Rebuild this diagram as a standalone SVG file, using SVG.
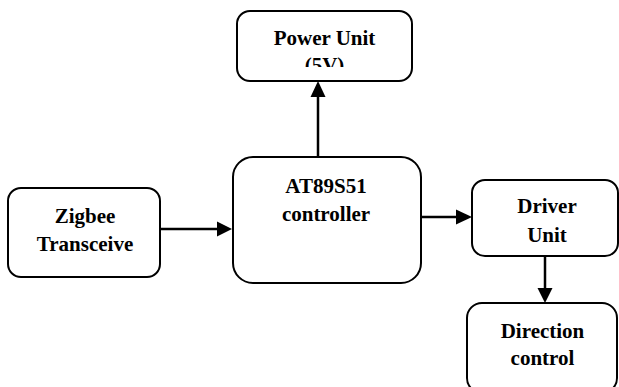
<svg xmlns="http://www.w3.org/2000/svg" width="619" height="387" viewBox="0 0 619 387">
<style>
.box{fill:#fff;stroke:#000;stroke-width:2}
.t{font-family:"Liberation Serif","Times New Roman",serif;font-weight:bold;font-size:21px;text-anchor:middle;fill:#000}
.c{stroke:#000;stroke-width:2.5;fill:none}
</style>
<defs>
<clipPath id="pc"><rect x="237" y="10" width="175" height="57"/></clipPath>
</defs>
<g id="connectors">
<line class="c" x1="318" y1="157" x2="318" y2="97"/>
<path d="M310.5,97 L318,81 L325.5,97 Z"/>
<line class="c" x1="160" y1="229" x2="217" y2="229"/>
<path d="M217,221.5 L232,229 L217,236.5 Z"/>
<line class="c" x1="421" y1="217" x2="456" y2="217"/>
<path d="M456,209.5 L472,217 L456,224.5 Z"/>
<line class="c" x1="545" y1="256" x2="545" y2="288"/>
<path d="M537.5,288 L545,303 L552.5,288 Z"/>
</g>
<g id="power">
<rect class="box" x="237" y="11" width="175" height="70" rx="13"/>
<g clip-path="url(#pc)">
<text class="t" x="324.5" y="45">Power Unit</text>
<text class="t" x="324.5" y="72">(5V)</text>
</g>
</g>
<g id="zigbee">
<rect class="box" x="8" y="188" width="152" height="89" rx="13"/>
<text class="t" x="85" y="223">Zigbee</text>
<text class="t" x="85" y="251">Transceive</text>
</g>
<g id="controller">
<rect class="box" x="233" y="157" width="188" height="126" rx="20"/>
<text class="t" x="326" y="193">AT89S51</text>
<text class="t" x="326" y="221">controller</text>
</g>
<g id="driver">
<rect class="box" x="472" y="180" width="146" height="76" rx="13"/>
<text class="t" x="547" y="213">Driver</text>
<text class="t" x="547" y="242">Unit</text>
</g>
<g id="direction">
<rect class="box" x="467" y="303" width="150" height="90" rx="15"/>
<text class="t" x="542.5" y="338">Direction</text>
<text class="t" x="542.5" y="365">control</text>
</g>
</svg>
